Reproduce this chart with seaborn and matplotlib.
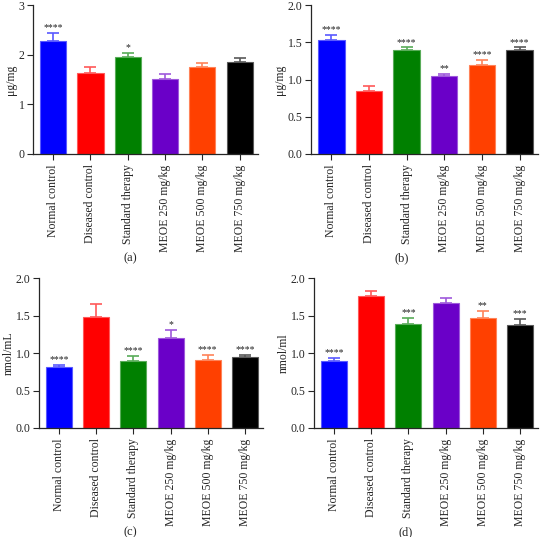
import numpy as np
import pandas as pd
import seaborn as sns
import matplotlib.pyplot as plt
from matplotlib.colors import to_rgb

groups = ["Normal control", "Diseased control", "Standard therapy",
          "MEOE 250 mg/kg", "MEOE 500 mg/kg", "MEOE 750 mg/kg"]
colors = ["#0000FF", "#FF0000", "#008000", "#6A00C8", "#FF4000", "#000000"]

mean_a = [2.28, 1.64, 1.95, 1.52, 1.76, 1.85]
err_a = [0.15, 0.11, 0.08, 0.10, 0.07, 0.09]
stars_a = ["****", "", "*", "", "", ""]

mean_b = [1.53, 0.84, 1.40, 1.05, 1.20, 1.39]
err_b = [0.07, 0.07, 0.03, 0.03, 0.06, 0.04]
stars_b = ["****", "", "****", "**", "****", "****"]

mean_c = [0.81, 1.48, 0.89, 1.20, 0.91, 0.95]
err_c = [0.03, 0.17, 0.07, 0.11, 0.07, 0.03]
stars_c = ["****", "", "****", "*", "****", "****"]

mean_d = [0.89, 1.76, 1.39, 1.67, 1.47, 1.38]
err_d = [0.05, 0.07, 0.08, 0.06, 0.09, 0.08]
stars_d = ["****", "", "***", "", "**", "***"]

sns.set_style("ticks")
plt.rcParams["font.family"] = ["Liberation Serif", "DejaVu Serif"]


def lighter(c, f=0.35):
    r = np.array(to_rgb(c))
    return tuple(r + (1 - r) * f)


def panel(ax, means, errs, stars, ylim, yticks, ylabel):
    df = pd.DataFrame({"group": groups, "value": means})
    sns.barplot(data=df, x="group", y="value", hue="group", palette=colors,
                order=groups, hue_order=groups, legend=False, errorbar=None,
                width=0.7, saturation=1, ax=ax)
    for i, p in enumerate(ax.patches):
        p.set_edgecolor(lighter(colors[i]))
        p.set_linewidth(0.8)
    for i in range(len(groups)):
        ec = lighter(colors[i])
        ax.errorbar(i, means[i], yerr=[[0], [errs[i]]], color=ec,
                    capsize=4, elinewidth=1.2, capthick=1.2, fmt="none")
        if stars[i]:
            ax.text(i, means[i] + errs[i] + ylim[1] * 0.005, stars[i],
                    ha="center", va="bottom", fontsize=7, color="#222222")
    ax.set_xlim(-0.54, 5.49)
    ax.set_ylim(*ylim)
    ax.set_yticks(yticks)
    ax.set_xlabel("")
    ax.set_ylabel(ylabel, fontsize=8.5, labelpad=1)
    ax.tick_params(axis="x", rotation=90, labelsize=8.5, length=4, width=0.8)
    ax.tick_params(axis="y", labelsize=8.5, length=4, width=0.8, pad=2)
    for s in ["top", "right"]:
        ax.spines[s].set_visible(False)
    for s in ["left", "bottom"]:
        ax.spines[s].set_linewidth(0.9)


fig = plt.figure(figsize=(5.42, 5.37), dpi=100)
ax_a = fig.add_axes([33 / 542, 1 - 154 / 537, 225 / 542, 149 / 537])
ax_b = fig.add_axes([311 / 542, 1 - 154 / 537, 227 / 542, 149 / 537])
ax_c = fig.add_axes([39 / 542, 1 - 428 / 537, 224 / 542, 150 / 537])
ax_d = fig.add_axes([314 / 542, 1 - 428 / 537, 224 / 542, 150 / 537])

panel(ax_a, mean_a, err_a, stars_a, (0, 3), [0, 1, 2, 3], "μg/mg")
ax_a.set_yticklabels(["0", "1", "2", "3"])
panel(ax_b, mean_b, err_b, stars_b, (0, 2), [0, 0.5, 1.0, 1.5, 2.0], "μg/mg")
panel(ax_c, mean_c, err_c, stars_c, (0, 2), [0, 0.5, 1.0, 1.5, 2.0], "nmol/mL")
panel(ax_d, mean_d, err_d, stars_d, (0, 2), [0, 0.5, 1.0, 1.5, 2.0], "nmol/ml")
for ax in [ax_b, ax_c, ax_d]:
    ax.set_yticklabels(["0.0", "0.5", "1.0", "1.5", "2.0"])

fig.text(130 / 542, 1 - 258 / 537, "(a)", ha="center", va="center", fontsize=9)
fig.text(402 / 542, 1 - 258 / 537, "(b)", ha="center", va="center", fontsize=9)
fig.text(130 / 542, 1 - 532 / 537, "(c)", ha="center", va="center", fontsize=9)
fig.text(406 / 542, 1 - 532 / 537, "(d)", ha="center", va="center", fontsize=9)

fig.savefig("out.png", dpi=100)
